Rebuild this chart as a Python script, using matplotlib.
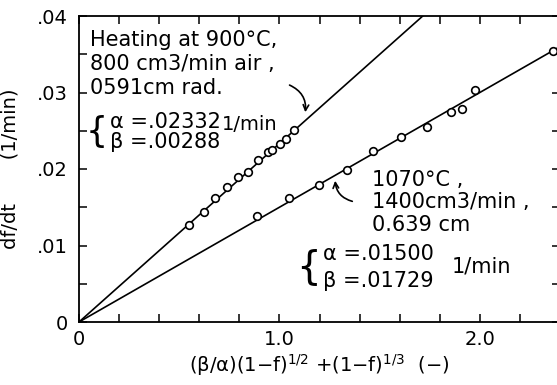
import numpy as np
import matplotlib.pyplot as plt
from matplotlib.ticker import MultipleLocator

# run at 900 C
x_900 = [0.55, 0.625, 0.678, 0.736, 0.795, 0.845, 0.894, 0.944, 0.964, 1.002, 1.032, 1.074]
y_900 = [0.0127, 0.0144, 0.0162, 0.0177, 0.0189, 0.0196, 0.0212, 0.0222, 0.0225, 0.0233, 0.0239, 0.0251]
alpha_900 = 0.02332

# run at 1070 C
x_1070 = [0.886, 1.05, 1.199, 1.338, 1.468, 1.606, 1.734, 1.855, 1.909, 1.975, 2.366]
y_1070 = [0.0139, 0.0162, 0.0179, 0.0199, 0.0224, 0.0242, 0.0255, 0.0274, 0.0279, 0.0303, 0.0354]
alpha_1070 = 0.01500

xticks = [0, 1, 2]
xticklabels = ['0', '1.0', '2.0']
yticks = [0, 0.01, 0.02, 0.03, 0.04]
yticklabels = ['0', '.01', '.02', '.03', '.04']

W, H = 557, 385
fig = plt.figure(figsize=(W / 100, H / 100), dpi=100)

def fp(x, y):
    # image pixel (top-left origin) -> figure fraction
    return (x / W, 1 - y / H)

ax = fig.add_axes([79 / W, (H - 322) / H, (560 - 79) / W, (322 - 16) / H])

xmax = 2.4
xx = np.array([0, xmax])
ax.plot(xx, alpha_900 * xx, color='k', lw=1.2)
ax.plot(xx, alpha_1070 * xx, color='k', lw=1.2)
ax.plot(x_900, y_900, 'o', mfc='white', mec='k', ms=5.5, mew=1.2)
ax.plot(x_1070, y_1070, 'o', mfc='white', mec='k', ms=5.5, mew=1.2, clip_on=False)

ax.set_xlim(0, xmax)
ax.set_ylim(0, 0.04)
ax.set_xticks(xticks)
ax.set_xticklabels(xticklabels)
ax.set_yticks(yticks)
ax.set_yticklabels(yticklabels)
ax.xaxis.set_minor_locator(MultipleLocator(0.2))
ax.yaxis.set_minor_locator(MultipleLocator(0.005))
ax.tick_params(which='both', direction='in', top=True, right=True,
               length=6, width=1.1, labelsize=14)
ax.tick_params(axis='y', pad=8)
ax.tick_params(axis='x', pad=6)
for s in ax.spines.values():
    s.set_linewidth(1.3)

ax.set_xlabel('(β/α)(1−f)$^{1/2}$ +(1−f)$^{1/3}$  (−)', fontsize=14, labelpad=2)
ax.set_ylabel('df/dt       (1/min)', fontsize=14)
ax.yaxis.set_label_coords(-(79 - 20) / 481, 0.5)

# upper block
fig.text(*fp(90, 30), 'Heating at 900°C,\n800 cm3/min air ,\n0591cm rad.',
         fontsize=15, va='top', ha='left', linespacing=1.25)
fig.text(*fp(108, 132), '{', fontsize=25, va='center', ha='right')
fig.text(*fp(110, 122), 'α =.02332', fontsize=15, va='center', ha='left')
fig.text(*fp(110, 142), 'β =.00288', fontsize=15, va='center', ha='left')
fig.text(*fp(222, 124), '1/min', fontsize=14, va='center', ha='left')

# lower block
fig.text(*fp(372, 170), '1070°C ,\n1400cm3/min ,\n0.639 cm',
         fontsize=15, va='top', ha='left', linespacing=1.15)
fig.text(*fp(321, 267), '{', fontsize=28, va='center', ha='right')
fig.text(*fp(323, 254), 'α =.01500', fontsize=15, va='center', ha='left')
fig.text(*fp(323, 281), 'β =.01729', fontsize=15, va='center', ha='left')
fig.text(*fp(452, 267), '1/min', fontsize=15, va='center', ha='left')

# arrows
ax.annotate('', xy=fp(305, 115), xytext=fp(287, 84),
            xycoords='figure fraction', textcoords='figure fraction',
            arrowprops=dict(arrowstyle='->', lw=1.2, color='k',
                            connectionstyle='arc3,rad=-0.4'))
ax.annotate('', xy=fp(335, 178), xytext=fp(355, 202),
            xycoords='figure fraction', textcoords='figure fraction',
            arrowprops=dict(arrowstyle='->', lw=1.2, color='k',
                            connectionstyle='arc3,rad=-0.4'))

fig.savefig('out.png', dpi=100)
